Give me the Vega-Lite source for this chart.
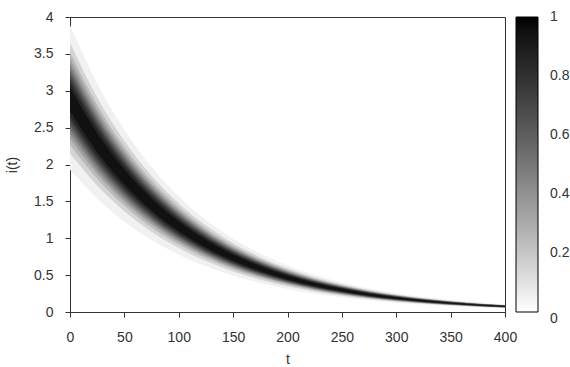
{
  "$schema": "https://vega.github.io/schema/vega-lite/v6.json",
  "autosize": {"type": "none"},
  "padding": {"left": 70, "top": 17, "right": 65, "bottom": 55},
  "width": 435,
  "height": 295,
  "background": "#ffffff",
  "config": {
    "view": {"stroke": "#333333", "strokeWidth": 1},
    "font": "Liberation Sans",
    "axis": {
      "grid": false,
      "domain": true,
      "domainColor": "#333333",
      "ticks": true,
      "zindex": 1,
      "tickColor": "#333333",
      "tickSize": 5,
      "labelFont": "Liberation Sans",
      "labelFontSize": 14,
      "labelColor": "#333333",
      "titleFont": "Liberation Sans",
      "titleFontSize": 14,
      "titleFontWeight": "normal",
      "titleColor": "#333333"
    },
    "legend": {
      "labelFont": "Liberation Sans",
      "labelFontSize": 14,
      "labelColor": "#333333"
    }
  },
  "data": {
    "values": [
      {"t":0,"level":0.05,"lo":1.930,"hi":3.888},{"t":25,"level":0.05,"lo":1.537,"hi":3.097},{"t":50,"level":0.05,"lo":1.225,"hi":2.468},{"t":75,"level":0.05,"lo":0.976,"hi":1.966},{"t":100,"level":0.05,"lo":0.777,"hi":1.566},{"t":125,"level":0.05,"lo":0.619,"hi":1.247},{"t":150,"level":0.05,"lo":0.493,"hi":0.994},{"t":175,"level":0.05,"lo":0.393,"hi":0.792},{"t":200,"level":0.05,"lo":0.313,"hi":0.630},{"t":225,"level":0.05,"lo":0.249,"hi":0.502},{"t":250,"level":0.05,"lo":0.199,"hi":0.401},{"t":275,"level":0.05,"lo":0.158,"hi":0.319},{"t":300,"level":0.05,"lo":0.126,"hi":0.254},{"t":325,"level":0.05,"lo":0.101,"hi":0.203},{"t":350,"level":0.05,"lo":0.080,"hi":0.162},{"t":375,"level":0.05,"lo":0.064,"hi":0.128},{"t":400,"level":0.05,"lo":0.051,"hi":0.103},
      {"t":0,"level":0.15,"lo":2.151,"hi":3.652},{"t":25,"level":0.15,"lo":1.714,"hi":2.909},{"t":50,"level":0.15,"lo":1.366,"hi":2.318},{"t":75,"level":0.15,"lo":1.088,"hi":1.846},{"t":100,"level":0.15,"lo":0.867,"hi":1.471},{"t":125,"level":0.15,"lo":0.690,"hi":1.172},{"t":150,"level":0.15,"lo":0.550,"hi":0.933},{"t":175,"level":0.15,"lo":0.438,"hi":0.744},{"t":200,"level":0.15,"lo":0.349,"hi":0.592},{"t":225,"level":0.15,"lo":0.278,"hi":0.472},{"t":250,"level":0.15,"lo":0.222,"hi":0.377},{"t":275,"level":0.15,"lo":0.176,"hi":0.299},{"t":300,"level":0.15,"lo":0.140,"hi":0.238},{"t":325,"level":0.15,"lo":0.112,"hi":0.190},{"t":350,"level":0.15,"lo":0.090,"hi":0.152},{"t":375,"level":0.15,"lo":0.071,"hi":0.120},{"t":400,"level":0.15,"lo":0.057,"hi":0.096},
      {"t":0,"level":0.25,"lo":2.269,"hi":3.525},{"t":25,"level":0.25,"lo":1.808,"hi":2.808},{"t":50,"level":0.25,"lo":1.440,"hi":2.238},{"t":75,"level":0.25,"lo":1.147,"hi":1.782},{"t":100,"level":0.25,"lo":0.914,"hi":1.420},{"t":125,"level":0.25,"lo":0.728,"hi":1.131},{"t":150,"level":0.25,"lo":0.580,"hi":0.901},{"t":175,"level":0.25,"lo":0.463,"hi":0.718},{"t":200,"level":0.25,"lo":0.368,"hi":0.572},{"t":225,"level":0.25,"lo":0.293,"hi":0.455},{"t":250,"level":0.25,"lo":0.234,"hi":0.364},{"t":275,"level":0.25,"lo":0.186,"hi":0.289},{"t":300,"level":0.25,"lo":0.148,"hi":0.230},{"t":325,"level":0.25,"lo":0.118,"hi":0.184},{"t":350,"level":0.25,"lo":0.095,"hi":0.147},{"t":375,"level":0.25,"lo":0.075,"hi":0.116},{"t":400,"level":0.25,"lo":0.060,"hi":0.093},
      {"t":0,"level":0.35,"lo":2.353,"hi":3.439},{"t":25,"level":0.35,"lo":1.874,"hi":2.739},{"t":50,"level":0.35,"lo":1.493,"hi":2.183},{"t":75,"level":0.35,"lo":1.190,"hi":1.738},{"t":100,"level":0.35,"lo":0.948,"hi":1.385},{"t":125,"level":0.35,"lo":0.755,"hi":1.103},{"t":150,"level":0.35,"lo":0.601,"hi":0.879},{"t":175,"level":0.35,"lo":0.480,"hi":0.701},{"t":200,"level":0.35,"lo":0.382,"hi":0.558},{"t":225,"level":0.35,"lo":0.304,"hi":0.444},{"t":250,"level":0.35,"lo":0.243,"hi":0.355},{"t":275,"level":0.35,"lo":0.193,"hi":0.282},{"t":300,"level":0.35,"lo":0.154,"hi":0.224},{"t":325,"level":0.35,"lo":0.123,"hi":0.179},{"t":350,"level":0.35,"lo":0.098,"hi":0.143},{"t":375,"level":0.35,"lo":0.078,"hi":0.113},{"t":400,"level":0.35,"lo":0.062,"hi":0.091},
      {"t":0,"level":0.45,"lo":2.419,"hi":3.367},{"t":25,"level":0.45,"lo":1.927,"hi":2.682},{"t":50,"level":0.45,"lo":1.536,"hi":2.137},{"t":75,"level":0.45,"lo":1.223,"hi":1.702},{"t":100,"level":0.45,"lo":0.974,"hi":1.356},{"t":125,"level":0.45,"lo":0.776,"hi":1.080},{"t":150,"level":0.45,"lo":0.618,"hi":0.860},{"t":175,"level":0.45,"lo":0.493,"hi":0.686},{"t":200,"level":0.45,"lo":0.392,"hi":0.546},{"t":225,"level":0.45,"lo":0.312,"hi":0.435},{"t":250,"level":0.45,"lo":0.249,"hi":0.347},{"t":275,"level":0.45,"lo":0.198,"hi":0.276},{"t":300,"level":0.45,"lo":0.158,"hi":0.220},{"t":325,"level":0.45,"lo":0.126,"hi":0.175},{"t":350,"level":0.45,"lo":0.101,"hi":0.140},{"t":375,"level":0.45,"lo":0.080,"hi":0.111},{"t":400,"level":0.45,"lo":0.064,"hi":0.089},
      {"t":0,"level":0.55,"lo":2.480,"hi":3.303},{"t":25,"level":0.55,"lo":1.975,"hi":2.631},{"t":50,"level":0.55,"lo":1.574,"hi":2.097},{"t":75,"level":0.55,"lo":1.254,"hi":1.670},{"t":100,"level":0.55,"lo":0.999,"hi":1.331},{"t":125,"level":0.55,"lo":0.796,"hi":1.060},{"t":150,"level":0.55,"lo":0.634,"hi":0.844},{"t":175,"level":0.55,"lo":0.505,"hi":0.673},{"t":200,"level":0.55,"lo":0.402,"hi":0.536},{"t":225,"level":0.55,"lo":0.320,"hi":0.427},{"t":250,"level":0.55,"lo":0.256,"hi":0.341},{"t":275,"level":0.55,"lo":0.203,"hi":0.271},{"t":300,"level":0.55,"lo":0.162,"hi":0.216},{"t":325,"level":0.55,"lo":0.129,"hi":0.172},{"t":350,"level":0.55,"lo":0.103,"hi":0.138},{"t":375,"level":0.55,"lo":0.082,"hi":0.109},{"t":400,"level":0.55,"lo":0.065,"hi":0.087},
      {"t":0,"level":0.65,"lo":2.537,"hi":3.243},{"t":25,"level":0.65,"lo":2.021,"hi":2.583},{"t":50,"level":0.65,"lo":1.610,"hi":2.058},{"t":75,"level":0.65,"lo":1.283,"hi":1.639},{"t":100,"level":0.65,"lo":1.022,"hi":1.306},{"t":125,"level":0.65,"lo":0.814,"hi":1.040},{"t":150,"level":0.65,"lo":0.648,"hi":0.829},{"t":175,"level":0.65,"lo":0.517,"hi":0.661},{"t":200,"level":0.65,"lo":0.411,"hi":0.526},{"t":225,"level":0.65,"lo":0.328,"hi":0.419},{"t":250,"level":0.65,"lo":0.262,"hi":0.334},{"t":275,"level":0.65,"lo":0.208,"hi":0.266},{"t":300,"level":0.65,"lo":0.166,"hi":0.212},{"t":325,"level":0.65,"lo":0.132,"hi":0.169},{"t":350,"level":0.65,"lo":0.106,"hi":0.135},{"t":375,"level":0.65,"lo":0.084,"hi":0.107},{"t":400,"level":0.65,"lo":0.067,"hi":0.086},
      {"t":0,"level":0.75,"lo":2.592,"hi":3.185},{"t":25,"level":0.75,"lo":2.065,"hi":2.537},{"t":50,"level":0.75,"lo":1.645,"hi":2.022},{"t":75,"level":0.75,"lo":1.310,"hi":1.610},{"t":100,"level":0.75,"lo":1.044,"hi":1.283},{"t":125,"level":0.75,"lo":0.832,"hi":1.022},{"t":150,"level":0.75,"lo":0.662,"hi":0.814},{"t":175,"level":0.75,"lo":0.528,"hi":0.649},{"t":200,"level":0.75,"lo":0.420,"hi":0.517},{"t":225,"level":0.75,"lo":0.335,"hi":0.411},{"t":250,"level":0.75,"lo":0.267,"hi":0.328},{"t":275,"level":0.75,"lo":0.212,"hi":0.261},{"t":300,"level":0.75,"lo":0.169,"hi":0.208},{"t":325,"level":0.75,"lo":0.135,"hi":0.166},{"t":350,"level":0.75,"lo":0.108,"hi":0.133},{"t":375,"level":0.75,"lo":0.086,"hi":0.105},{"t":400,"level":0.75,"lo":0.068,"hi":0.084},
      {"t":0,"level":0.85,"lo":2.652,"hi":3.122},{"t":25,"level":0.85,"lo":2.113,"hi":2.487},{"t":50,"level":0.85,"lo":1.684,"hi":1.982},{"t":75,"level":0.85,"lo":1.341,"hi":1.578},{"t":100,"level":0.85,"lo":1.068,"hi":1.257},{"t":125,"level":0.85,"lo":0.851,"hi":1.002},{"t":150,"level":0.85,"lo":0.678,"hi":0.798},{"t":175,"level":0.85,"lo":0.541,"hi":0.636},{"t":200,"level":0.85,"lo":0.430,"hi":0.506},{"t":225,"level":0.85,"lo":0.343,"hi":0.403},{"t":250,"level":0.85,"lo":0.274,"hi":0.322},{"t":275,"level":0.85,"lo":0.217,"hi":0.256},{"t":300,"level":0.85,"lo":0.173,"hi":0.204},{"t":325,"level":0.85,"lo":0.138,"hi":0.163},{"t":350,"level":0.85,"lo":0.111,"hi":0.130},{"t":375,"level":0.85,"lo":0.087,"hi":0.103},{"t":400,"level":0.85,"lo":0.070,"hi":0.082},
      {"t":0,"level":0.95,"lo":2.724,"hi":3.044},{"t":25,"level":0.95,"lo":2.170,"hi":2.425},{"t":50,"level":0.95,"lo":1.729,"hi":1.932},{"t":75,"level":0.95,"lo":1.377,"hi":1.539},{"t":100,"level":0.95,"lo":1.097,"hi":1.226},{"t":125,"level":0.95,"lo":0.874,"hi":0.977},{"t":150,"level":0.95,"lo":0.696,"hi":0.778},{"t":175,"level":0.95,"lo":0.555,"hi":0.620},{"t":200,"level":0.95,"lo":0.442,"hi":0.494},{"t":225,"level":0.95,"lo":0.352,"hi":0.393},{"t":250,"level":0.95,"lo":0.281,"hi":0.314},{"t":275,"level":0.95,"lo":0.223,"hi":0.249},{"t":300,"level":0.95,"lo":0.178,"hi":0.199},{"t":325,"level":0.95,"lo":0.142,"hi":0.159},{"t":350,"level":0.95,"lo":0.114,"hi":0.127},{"t":375,"level":0.95,"lo":0.090,"hi":0.100},{"t":400,"level":0.95,"lo":0.072,"hi":0.080}
    ]
  },
  "mark": {"type": "area", "interpolate": "monotone", "stroke": null},
  "encoding": {
    "x": {
      "field": "t", "type": "quantitative",
      "scale": {"domain": [0, 400], "nice": false, "zero": false},
      "axis": {"orient": "bottom", "values": [0, 50, 100, 150, 200, 250, 300, 350, 400], "format": "d", "title": "t", "labelPadding": 13, "titlePadding": 8, "labelFlush": false}
    },
    "y": {
      "field": "lo", "type": "quantitative",
      "scale": {"domain": [0, 4], "nice": false},
      "axis": {"orient": "left", "values": [0, 0.5, 1, 1.5, 2, 2.5, 3, 3.5, 4], "format": ".1~f", "title": "i(t)", "labelPadding": 12, "titlePadding": 14, "labelFlush": false}
    },
    "y2": {"field": "hi"},
    "color": {
      "field": "level", "type": "quantitative",
      "scale": {"domain": [0, 1], "range": ["#ffffff", "#000000"]},
      "legend": {
        "title": null,
        "orient": "right",
        "offset": 11,
        "direction": "vertical",
        "gradientLength": 295,
        "gradientThickness": 22,
        "gradientStrokeColor": "#000000",
        "gradientStrokeWidth": 1,
        "values": [0, 0.2, 0.4, 0.6, 0.8, 1],
        "format": ".1~f",
        "labelOffset": 12,
        "labelOverlap": false,
        "encode": {
          "labels": {
            "update": {
              "baseline": {"signal": "datum.value <= 0 ? 'top' : 'middle'"}
            }
          }
        }
      }
    },
    "detail": {"field": "level"}
  }
}
